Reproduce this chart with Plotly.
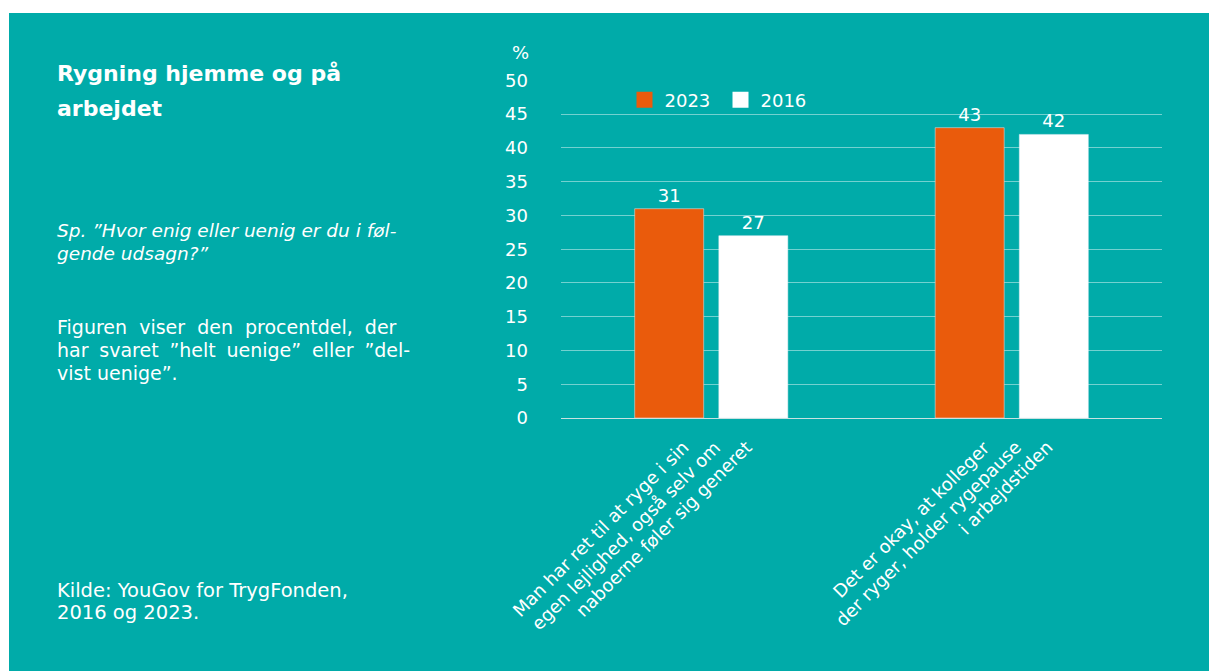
import plotly.graph_objects as go

categories = [
    "Man har ret til at ryge i sin<br>egen lejlighed, også selv om<br>naboerne føler sig generet",
    "Det er okay, at kolleger<br>der ryger, holder rygepause<br>i arbejdstiden",
]
values_2023 = [31, 43]
values_2016 = [27, 42]
y_ticks = [0, 5, 10, 15, 20, 25, 30, 35, 40, 45, 50]

TEAL = "#00ABA9"
ORANGE = "#EA5B0C"
FONT = "DejaVu Sans"

OFF = 0  # body margin removed in post_script
W, H = 1209 - OFF, 671 - OFF
PL, PR, PT, PB = 561, 1162, 80, 418  # plot area in page pixels
PW, PH = PR - PL, PB - PT
L, T = PL - OFF, PT - OFF
R, B = W - L - PW, H - T - PH

def px(x):
    return (x - PL) / PW

def py(y):
    return (PB - y) / PH

fig = go.Figure()
fig.add_trace(go.Bar(name="2023", x=[0, 1], y=values_2023, marker_color=ORANGE,
                     text=values_2023, textposition="outside", cliponaxis=False,
                     textfont=dict(color="white", size=18, family=FONT), showlegend=False))
fig.add_trace(go.Bar(name="2016", x=[0, 1], y=values_2016, marker_color="white",
                     text=values_2016, textposition="outside", cliponaxis=False,
                     textfont=dict(color="white", size=18, family=FONT), showlegend=False))
# legend entries (square keys)
for nm, col in [("2023", ORANGE), ("2016", "white")]:
    fig.add_trace(go.Scatter(name=nm, x=[None], y=[None], mode="markers",
                             marker=dict(symbol="square", size=16, color=col, line=dict(width=0)),
                             showlegend=True))

fig.update_layout(
    width=W, height=H,
    margin=dict(l=L, r=R, t=T, b=B, pad=0),
    paper_bgcolor="white",
    plot_bgcolor="rgba(0,0,0,0)",
    barmode="group", bargap=0.44, bargroupgap=0.18,
    font=dict(family=FONT, color="white", size=18),
    showlegend=True,
    legend=dict(orientation="h", x=px(624.5), y=py(100), xanchor="left", yanchor="middle",
                font=dict(size=18, color="white", family=FONT), bgcolor="rgba(0,0,0,0)",
                traceorder="normal", itemwidth=30, itemsizing="trace",
                entrywidth=51, entrywidthmode="pixels"),
    xaxis=dict(range=[-0.5, 1.5], tickmode="array", tickvals=[0, 1],
               showticklabels=False, showgrid=False, zeroline=False, showline=False, ticks=""),
    yaxis=dict(range=[0, 50.06], tickmode="array", tickvals=y_ticks,
               ticktext=[str(v) for v in y_ticks],
               tickfont=dict(size=18, color="white", family=FONT),
               showgrid=True, gridcolor="rgba(255,255,255,0.45)", gridwidth=1,
               zeroline=True, zerolinecolor="rgba(235,235,235,0.85)", zerolinewidth=1,
               ticklabelstandoff=32, showline=False, ticks=""),
    shapes=[dict(type="rect", xref="paper", yref="paper", x0=px(9), x1=px(1240),
                 y0=py(13), y1=py(700), fillcolor=TEAL, line=dict(width=0), layer="below")],
)

# category labels: rotated lines whose ends line up horizontally below the axis
LABEL_XSHIFT = -15.5
LABEL_STEP = 31.5
LABEL_TOP = 434
for ci, txt in enumerate(categories):
    for li, line in enumerate(txt.split("<br>")):
        fig.add_annotation(text=line, x=ci, xref="x", xshift=LABEL_XSHIFT + LABEL_STEP * li,
                           y=py(LABEL_TOP), yref="paper", textangle=-45,
                           xanchor="right", yanchor="top", showarrow=False,
                           font=dict(size=18, color="white", family=FONT))

NB = "\u00a0"
FS = "\u2005"
# left-hand texts, one annotation per line
left_lines = [
    ("<b>Rygning hjemme og på</b>", 74, 22),
    ("<b>arbejdet</b>", 108.5, 22),
    ("<i>Sp. ”Hvor enig eller uenig er du i føl-</i>", 230, 18.5),
    ("<i>gende udsagn?”</i>", 253.5, 18.5),
    ((" " + NB).join("Figuren viser den procentdel, der".split(" ")), 326.5, 19),
    ((" " + FS).join("har svaret ”helt uenige” eller ”del-".split(" ")), 349.8, 19),
    ("vist uenige”.", 373, 19),
    ("Kilde: YouGov for TrygFonden,", 590, 19.5),
    ("2016 og 2023.", 612.5, 19.5),
]
for txt, yc, sz in left_lines:
    fig.add_annotation(text=txt, x=px(55), y=py(yc), xref="paper", yref="paper",
                       xanchor="left", yanchor="middle", align="left", showarrow=False,
                       font=dict(size=sz, color="white", family=FONT))

fig.add_annotation(text="%", x=px(520), y=py(52), xref="paper", yref="paper",
                   xanchor="center", yanchor="middle", showarrow=False,
                   font=dict(size=18, color="white", family=FONT))

fig.write_html("out.html", config={"displayModeBar": False},
               post_script="document.body.style.margin='0';document.body.style.overflow='hidden';")
